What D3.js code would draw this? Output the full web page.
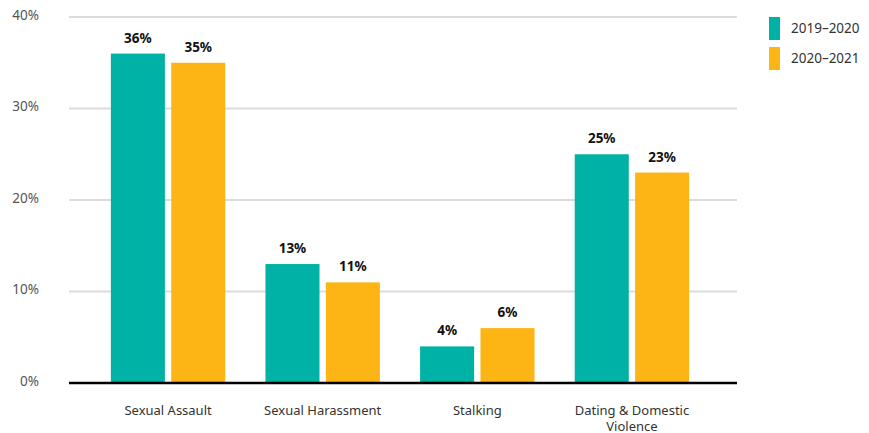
<!DOCTYPE html>
<html><head><meta charset="utf-8">
<script src="https://cdn.jsdelivr.net/npm/d3@7"></script>
<style>body{margin:0;background:#fff;} text{font-family:"Noto Sans",sans-serif;}</style>
</head><body>
<svg id="c" width="869" height="433"></svg>
<script>
const categories = ["Sexual Assault", "Sexual Harassment", "Stalking", "Dating & Domestic Violence"];
const seriesNames = ["2019–2020", "2020–2021"];
const values2019 = [36, 13, 4, 25];
const values2020 = [35, 11, 6, 23];
const yTicks = [0, 10, 20, 30, 40];
const colors = ["#00B2A6", "#FDB515"];

const svg = d3.select("#c");
const y = d3.scaleLinear().domain([0, 40]).range([383, 17]);
const x = d3.scaleBand().domain(categories).range([90.75, 709.25]).paddingInner(0.26).paddingOuter(0.13);
const xs = d3.scaleBand().domain(seriesNames).range([0, x.bandwidth()]).paddingInner(0.105);

// grid
const yAxis = d3.axisLeft(y).tickValues(yTicks).tickSize(0).tickFormat(d => d + "%");
svg.append("g").selectAll("line").data(yTicks.filter(d => d > 0)).join("line")
  .attr("x1", 69).attr("x2", 737).attr("y1", d => y(d)).attr("y2", d => y(d))
  .attr("stroke", "#dcdcdc").attr("stroke-width", 2);
const ga = svg.append("g").attr("transform", "translate(42,-2)").call(yAxis);
ga.select(".domain").remove();
ga.selectAll("text").attr("font-size", 13.5).attr("fill", "#555").attr("font-family", "'Noto Sans',sans-serif").attr("dx", 0);

const data = categories.map((c, i) => ({cat: c, vals: [values2019[i], values2020[i]]}));
const groups = svg.append("g").selectAll("g").data(data).join("g")
  .attr("transform", d => `translate(${x(d.cat)},0)`);
groups.selectAll("rect").data(d => d.vals.map((v, j) => ({v, s: seriesNames[j], j}))).join("rect")
  .attr("x", d => xs(d.s)).attr("width", xs.bandwidth())
  .attr("y", d => y(d.v)).attr("height", d => y(0) - y(d.v))
  .attr("fill", d => colors[d.j]);
groups.selectAll("text.v").data(d => d.vals.map((v, j) => ({v, s: seriesNames[j], j}))).join("text")
  .attr("class", "v")
  .attr("x", d => xs(d.s) + xs.bandwidth() / 2).attr("y", d => y(d.v) - 11)
  .attr("text-anchor", "middle").attr("font-size", 13.5).attr("font-weight", "bold").attr("fill", "#111")
  .text(d => d.v + "%");

// baseline
svg.append("line").attr("x1", 69).attr("x2", 737).attr("y1", y(0)).attr("y2", y(0))
  .attr("stroke", "#000").attr("stroke-width", 2.5);

// category labels
const xAxis = d3.axisBottom(x).tickSize(0);
const gx = svg.append("g").attr("transform", `translate(0,${y(0)})`).call(xAxis);
gx.select(".domain").remove();
gx.selectAll("text").remove();
gx.selectAll(".tick").each(function(d) {
  const lines = d === "Dating & Domestic Violence" ? ["Dating & Domestic", "Violence"] : [d];
  lines.forEach((l, i) => d3.select(this).append("text")
    .attr("x", 0).attr("y", 32 + i * 16).attr("text-anchor", "middle")
    .attr("font-size", 13).attr("fill", "#333").attr("font-family", "'Noto Sans',sans-serif")
    .text(l));
});

// legend
const lg = svg.append("g").attr("transform", "translate(769,17)");
seriesNames.forEach((s, i) => {
  lg.append("rect").attr("x", 0).attr("y", i * 30).attr("width", 11).attr("height", 23).attr("fill", colors[i]);
  lg.append("text").attr("x", 22).attr("y", i * 30 + 16).attr("font-size", 13.5).attr("fill", "#333").text(s);
});
</script>
</body></html>
